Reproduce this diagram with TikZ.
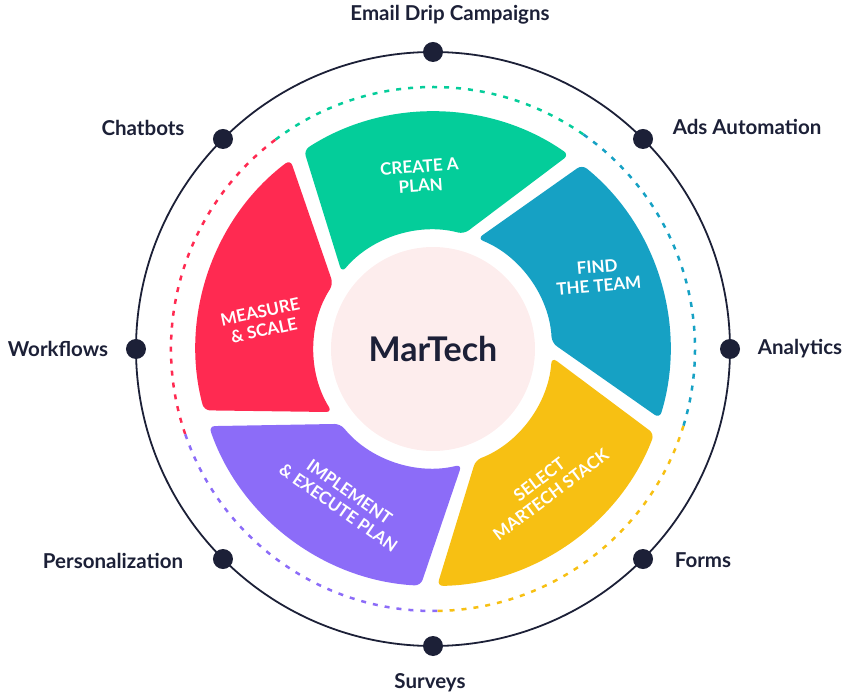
\documentclass[tikz,border=0pt]{standalone}
\usepackage{fontspec}
\setmainfont{Lato}
\usepackage{xcolor}
\usepackage{tikz}
\usetikzlibrary{positioning,calc}
\definecolor{navy}{HTML}{1C2037}
\definecolor{mgreen}{HTML}{04CD9A}
\definecolor{mblue}{HTML}{16A1C4}
\definecolor{myellow}{HTML}{F7C013}
\definecolor{mpurple}{HTML}{8C6CF8}
\definecolor{mred}{HTML}{FF2A51}
\definecolor{mpink}{HTML}{FDEDED}
\tikzset{
  seg/.style={rounded corners=6pt},
  seglbl/.style={text=white,align=center,inner sep=1pt,
                 font=\bfseries\fontsize{17}{19}\selectfont},
  outlbl/.style={text=navy,font=\bfseries\fontsize{20.5}{23}\selectfont},
  hubdot/.style={circle,fill=navy,minimum size=20pt,inner sep=0pt},
  dotring/.style={dash pattern=on 5pt off 7pt,line width=2.5pt},
}

\begin{document}
\begin{tikzpicture}[x=1pt,y=1pt]
\useasboundingbox (-433,-351) rectangle (417,349);

% outer ring
\draw[navy,line width=1.8pt] (0,0) circle[radius=297];

% segments and dotted ring
\foreach \k/\col in {0/mgreen,1/mred,2/mpurple,3/myellow,4/mblue}{
  \pgfmathsetmacro\a{55+72*\k}
  \fill[seg,\col] (\a:237) arc[start angle=\a,end angle=\a+68,radius=237]
    -- ({\a+85}:119) arc[start angle=\a+85,end angle=\a+20,radius=119] -- cycle;
  \draw[dotring,\col] (\a:262) arc[start angle=\a,end angle=\a+72,radius=262];
}

% hub
\node[circle,fill=mpink,minimum size=204pt,inner sep=0pt,text=navy,
      font=\bfseries\fontsize{34}{38}\selectfont] (hub) at (0,0) {MarTech};

% segment labels
\node[seglbl,rotate=4]   (plan)    at (-13,173)  {CREATE A\\PLAN};
\node[seglbl,rotate=5]   (team)    at (165,73)   {FIND\\THE TEAM};
\node[seglbl,rotate=37]  (stack)   at (112,-138) {SELECT\\MARTECH STACK};
\node[seglbl,rotate=-35] (execute) at (-89,-151) {IMPLEMENT\\\& EXECUTE PLAN};
\node[seglbl,rotate=12]  (measure) at (-171,28)  {MEASURE\\\& SCALE};

% dots on the ring
\foreach \ang/\nm in {90/email,45/ads,0/analytics,-45/forms,-90/surveys,
                      -135/person,180/workflows,135/chatbots}
  \node[hubdot] (d-\nm) at (\ang:297) {};

% ring labels
\node[outlbl] (l-email)     at (17,334)    {Email Drip Campaigns};
\node[outlbl] (l-ads)       at (314,222)   {Ads Automation};
\node[outlbl] (l-analytics) at (367,0)     {Analytics};
\node[outlbl] (l-forms)     at (270,-211)  {Forms};
\node[outlbl] (l-surveys)   at (-3,-334)   {Surveys};
\node[outlbl] (l-person)    at (-320,-212) {Personalization};
\node[outlbl] (l-workflows) at (-375,0)    {Workflows};
\node[outlbl] (l-chatbots)  at (-290,221)  {Chatbots};

\end{tikzpicture}
\end{document}
